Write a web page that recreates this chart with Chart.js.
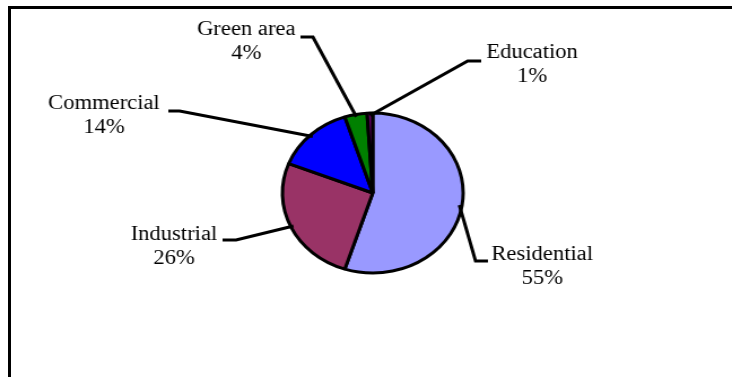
<!DOCTYPE html>
<html>
<head>
<meta charset="utf-8">
<script src="https://cdn.jsdelivr.net/npm/chart.js@4.4.0/dist/chart.umd.min.js"></script>
<style>
html, body { margin: 0; padding: 0; background: #fff; overflow: hidden; }
#stage { position: relative; width: 732px; height: 377px; }
/* the reference is stretched ~1.13x horizontally (oval pie, wide text) */
#wrap { position: absolute; left: 0; top: 0; width: 648px; height: 377px; transform: scaleX(1.1296); transform-origin: 0 0; }
#frame { position: absolute; left: 8px; top: 6px; right: 0; bottom: 0; border-top: 3px solid #000; border-left: 3px solid #000; }
</style>
</head>
<body>
<div id="stage">
    <div id="wrap"><canvas id="landUse" width="648" height="377"></canvas></div>
    <div id="frame"></div>
</div>
<script>
/* --- data --- */
const categories = ["Residential", "Industrial", "Commercial", "Green area", "Education"];
const shares = [55, 26, 14, 4, 1];
const sliceColors = ["#9999FF", "#993366", "#0000FF", "#008000", "#660066"];

/* --- label placement, px relative to pie centre --- */
// elbow: where the leader leaves the slice line, tick: short horizontal stub, text: centre of first line
const labelLayout = [
    { elbow: [91, 68],     tick: 11,  text: [150, 62] },
    { elbow: [-121, 47],   tick: -12, text: [-176, 42] },
    { elbow: [-171, -82],  tick: -10, text: [-238, -89] },
    { elbow: [-53, -156],  tick: -11, text: [-112, -163] },
    { elbow: [84, -132],   tick: 12,  text: [141, -140] }
];

/* --- leader lines + labels --- */
const leaderLabels = {
    id: "leaderLabels",
    afterDatasetsDraw(chart) {
        const ctx = chart.ctx;
        const meta = chart.getDatasetMeta(0);
        const total = shares.reduce((a, b) => a + b, 0);

        ctx.save();
        ctx.strokeStyle = "#000";
        ctx.lineWidth = 3;
        ctx.lineCap = "butt";
        ctx.lineJoin = "miter";
        ctx.fillStyle = "#000";
        ctx.font = "20px 'Liberation Serif', 'Times New Roman', serif";
        ctx.textAlign = "center";
        ctx.textBaseline = "middle";

        meta.data.forEach((arc, i) => {
            const p = arc.getProps(["x", "y", "startAngle", "endAngle", "outerRadius"], true);
            const mid = (p.startAngle + p.endAngle) / 2;
            const ax = p.x + Math.cos(mid) * p.outerRadius * 0.97;
            const ay = p.y + Math.sin(mid) * p.outerRadius * 0.97;
            const lay = labelLayout[i];
            const ex = p.x + lay.elbow[0];
            const ey = p.y + lay.elbow[1];

            ctx.beginPath();
            ctx.moveTo(ax, ay);
            ctx.lineTo(ex, ey);
            ctx.lineTo(ex + lay.tick, ey);
            ctx.stroke();

            const tx = p.x + lay.text[0];
            const ty = p.y + lay.text[1];
            const pct = Math.round(shares[i] / total * 100) + "%";
            ctx.fillText(categories[i], tx, ty);
            ctx.fillText(pct, tx, ty + 24);
        });
        ctx.restore();
    }
};

new Chart(document.getElementById("landUse"), {
    type: "pie",
    data: {
        labels: categories,
        datasets: [{
            data: shares,
            backgroundColor: sliceColors,
            borderColor: "#000",
            borderWidth: 3
        }]
    },
    options: {
        responsive: false,
        animation: false,
        radius: 80,
        layout: { padding: { left: 230, right: 218, top: 93, bottom: 84 } },
        plugins: {
            legend: { display: false },
            tooltip: { enabled: false }
        }
    },
    plugins: [leaderLabels]
});
</script>
</body>
</html>
